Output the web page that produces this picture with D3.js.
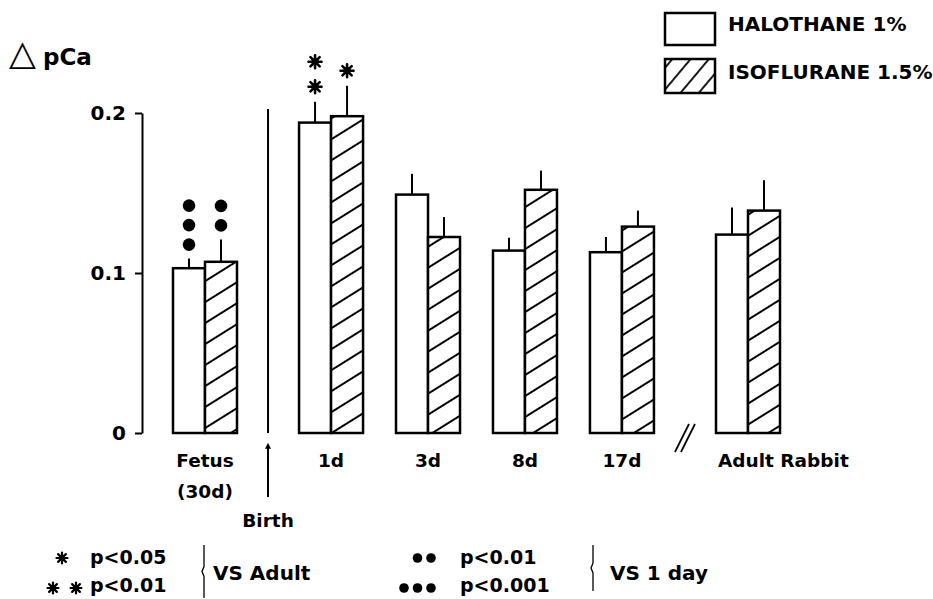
<!DOCTYPE html>
<html>
<head>
<meta charset="utf-8">
<script src="https://cdn.jsdelivr.net/npm/d3@7"></script>
<style>
  body { margin: 0; background: #fff; }
  text { font-family: "DejaVu Sans", sans-serif; font-weight: bold; fill: #000; }
</style>
</head>
<body>
<div id="chart"></div>
<script>
// groups along the x axis
var groups = ["Fetus", "1d", "3d", "8d", "17d", "Adult Rabbit"];
var groupLabels = [["Fetus", "(30d)"], ["1d"], ["3d"], ["8d"], ["17d"], ["Adult Rabbit"]];

// delta pCa, mean and error
var halothane    = [0.103, 0.194, 0.149, 0.114, 0.113, 0.124];
var halothaneErr = [0.006, 0.013, 0.013, 0.008, 0.0095, 0.017];
var isoflurane    = [0.107, 0.198, 0.1225, 0.152, 0.129, 0.139];
var isofluraneErr = [0.014, 0.019, 0.0125, 0.012, 0.010, 0.019];

// significance marks above each bar ("*" vs adult, "o" vs 1 day)
var halothaneSig  = ["ooo", "**", "", "", "", ""];
var isofluraneSig = ["oo", "*", "", "", "", ""];

var yTicks = [0, 0.1, 0.2];
var seriesNames = ["HALOTHANE 1%", "ISOFLURANE 1.5%"];

var width = 933, height = 599;
var barW = 32;

var svg = d3.select("#chart").append("svg")
  .attr("width", width)
  .attr("height", height);

svg.append("rect").attr("width", width).attr("height", height).attr("fill", "#fff");

var defs = svg.append("defs");
defs.append("pattern")
  .attr("id", "hatch")
  .attr("patternUnits", "userSpaceOnUse")
  .attr("width", 10).attr("height", 17.8)
  .attr("patternTransform", "rotate(-32)")
  .append("line")
  .attr("x1", 0).attr("x2", 10).attr("y1", 8.9).attr("y2", 8.9)
  .attr("stroke", "#000").attr("stroke-width", 2);
defs.append("pattern")
  .attr("id", "hatchLegend")
  .attr("patternUnits", "userSpaceOnUse")
  .attr("width", 10).attr("height", 14)
  .attr("patternTransform", "rotate(-50)")
  .append("line")
  .attr("x1", 0).attr("x2", 10).attr("y1", 7).attr("y2", 7)
  .attr("stroke", "#000").attr("stroke-width", 1.8);
defs.append("marker")
  .attr("id", "arrow")
  .attr("viewBox", "0 0 10 10")
  .attr("refX", 3).attr("refY", 5)
  .attr("markerWidth", 6).attr("markerHeight", 6)
  .attr("markerUnits", "userSpaceOnUse")
  .attr("orient", "auto")
  .append("path").attr("d", "M0,0 L10,5 L0,10 z").attr("fill", "#000");

// slot positions: extra space at birth (after Fetus) and at the axis break (after 17d)
var gapAfter = { "Fetus": 0.3, "17d": 0.3 };
var slots = [];
var s = 0;
groups.forEach(function(g, i) {
  slots.push(s);
  s += 1 + (gapAfter[g] || 0);
});

var x = d3.scaleLinear().domain([0, slots[slots.length - 1]]).range([205, 748]);
var y = d3.scaleLinear().domain([0, 0.2]).range([433, 113]);

// 8-armed asterisk
function star(g, cx, cy, r, w) {
  var d = "";
  for (var a = 0; a < 4; a++) {
    var ang = a * Math.PI / 4;
    var dx = r * Math.cos(ang), dy = r * Math.sin(ang);
    d += "M" + (cx - dx) + "," + (cy - dy) + "L" + (cx + dx) + "," + (cy + dy);
  }
  g.append("path").attr("d", d).attr("stroke", "#000").attr("stroke-width", w)
    .attr("stroke-linecap", "round").attr("fill", "none");
  g.append("circle").attr("cx", cx).attr("cy", cy).attr("r", r * 0.55).attr("fill", "#000");
}

// y axis
var yAxis = svg.append("g")
  .attr("transform", "translate(142,0)")
  .call(d3.axisLeft(y).tickValues(yTicks).tickSize(7).tickSizeOuter(0).tickPadding(9)
    .tickFormat(function(d) { return d === 0 ? "0" : d3.format(".1f")(d); }));
yAxis.select(".domain").attr("stroke-width", 2);
yAxis.selectAll(".tick line").attr("stroke-width", 2);
yAxis.selectAll(".tick text").style("font-size", "20px").style("font-family", "DejaVu Sans").style("font-weight", "bold");

// y title
var yTitle = svg.append("text").attr("x", 9).attr("y", 65);
yTitle.append("tspan").text("\u25B3").style("font-size", "35px");
yTitle.append("tspan").attr("x", 43).text("pCa").style("font-size", "23px");

var series = [
  { vals: halothane, err: halothaneErr, sig: halothaneSig, fill: "#fff", off: -1 },
  { vals: isoflurane, err: isofluraneErr, sig: isofluraneSig, fill: "url(#hatch)", off: 0 }
];

series.forEach(function(sr) {
  var g = svg.append("g");
  var data = groups.map(function(name, i) {
    return { cx: x(slots[i]) + sr.off * barW, v: sr.vals[i], e: sr.err[i], sig: sr.sig[i] };
  });

  g.selectAll(".bg").data(data).enter().append("rect")
    .attr("x", function(d) { return d.cx; })
    .attr("y", function(d) { return y(d.v); })
    .attr("width", barW)
    .attr("height", function(d) { return y(0) - y(d.v); })
    .attr("fill", "#fff");

  g.selectAll(".bar").data(data).enter().append("rect")
    .attr("x", function(d) { return d.cx; })
    .attr("y", function(d) { return y(d.v); })
    .attr("width", barW)
    .attr("height", function(d) { return y(0) - y(d.v); })
    .attr("fill", sr.fill)
    .attr("stroke", "#000")
    .attr("stroke-width", 2.5);

  g.selectAll(".err").data(data).enter().append("line")
    .attr("x1", function(d) { return d.cx + barW / 2; })
    .attr("x2", function(d) { return d.cx + barW / 2; })
    .attr("y1", function(d) { return y(d.v); })
    .attr("y2", function(d) { return y(d.v + d.e); })
    .attr("stroke", "#000").attr("stroke-width", 2);

  // significance marks stacked above error bars
  data.forEach(function(d) {
    var marks = d.sig.split("");
    marks.forEach(function(m, k) {
      var top = y(d.v + d.e);
      if (m === "o") {
        g.append("circle")
          .attr("cx", d.cx + barW / 2)
          .attr("cy", top - 14 - k * 19.5)
          .attr("r", 6.3).attr("fill", "#000");
      } else {
        star(g, d.cx + barW / 2, top - 15 - k * 25, 6.5, 2.6);
      }
    });
  });
});

// group labels
groupLabels.forEach(function(lines, i) {
  var last = i === groups.length - 1;
  var t = svg.append("text")
    .attr("text-anchor", last ? "start" : "middle")
    .style("font-size", "18.5px");
  lines.forEach(function(l, k) {
    t.append("tspan")
      .attr("x", last ? x(slots[i]) - barW + 2 : x(slots[i]))
      .attr("y", 467 + k * 31)
      .text(l);
  });
});

// birth marker
var birthX = x((slots[0] + slots[1]) / 2);
svg.append("line")
  .attr("x1", birthX).attr("x2", birthX)
  .attr("y1", y(0.2) - 4).attr("y2", y(0))
  .attr("stroke", "#000").attr("stroke-width", 2);
svg.append("line")
  .attr("x1", birthX).attr("x2", birthX)
  .attr("y1", 497).attr("y2", 447)
  .attr("stroke", "#000").attr("stroke-width", 2)
  .attr("marker-end", "url(#arrow)");
svg.append("text").attr("x", birthX).attr("y", 527)
  .attr("text-anchor", "middle").style("font-size", "18.5px").text("Birth");

// axis break
var brX = x((slots[4] + slots[5]) / 2);
[-3, 3].forEach(function(dx) {
  svg.append("line")
    .attr("x1", brX + dx - 7).attr("y1", 452)
    .attr("x2", brX + dx + 7).attr("y2", 424)
    .attr("stroke", "#000").attr("stroke-width", 1.8);
});

// legend
var legend = svg.append("g");
[["#fff", 13, 32], ["url(#hatchLegend)", 59, 34]].forEach(function(b, i) {
  legend.append("rect").attr("x", 665).attr("y", b[1]).attr("width", 50).attr("height", b[2]).attr("fill", "#fff");
  legend.append("rect").attr("x", 665).attr("y", b[1]).attr("width", 50).attr("height", b[2])
    .attr("fill", b[0]).attr("stroke", "#000").attr("stroke-width", 2.5);
  legend.append("text").attr("x", 728).attr("y", b[1] + 18 + (i ? 2 : 0)).style("font-size", "20px").text(seriesNames[i]);
});

// footnotes
var notesAdult = [{ n: 1, label: "p<0.05" }, { n: 2, label: "p<0.01" }];
var notesDay = [{ n: 2, label: "p<0.01" }, { n: 3, label: "p<0.001" }];

notesAdult.forEach(function(d, k) {
  var cy = 558 + k * 30;
  for (var j = 0; j < d.n; j++) {
    star(svg, 62 - j * 23 + (d.n - 1) * 14, cy, 5.5, 2.2);
  }
  svg.append("text").attr("x", 90).attr("y", 564 + k * 28).style("font-size", "19px").text(d.label);
});
notesDay.forEach(function(d, k) {
  var cy = 558 + k * 30;
  for (var j = 0; j < d.n; j++) {
    svg.append("circle").attr("cx", 431 - j * 13.5).attr("cy", cy).attr("r", 4.8).attr("fill", "#000");
  }
  svg.append("text").attr("x", 460).attr("y", 564 + k * 28).style("font-size", "19px").text(d.label);
});

function brace(bx, y0, y1) {
  var m = (y0 + y1) / 2;
  svg.append("path")
    .attr("d", "M" + bx + "," + y0 + " L" + bx + "," + (m - 5) + " L" + (bx - 2) + "," + m + " L" + bx + "," + (m + 5) + " L" + bx + "," + y1)
    .attr("fill", "none").attr("stroke", "#000").attr("stroke-width", 1.3);
}
brace(204, 545, 598);
brace(593, 545, 591);
svg.append("text").attr("x", 213).attr("y", 580).style("font-size", "20px").text("VS Adult");
svg.append("text").attr("x", 610).attr("y", 580).style("font-size", "20px").text("VS 1 day");
</script>
</body>
</html>
